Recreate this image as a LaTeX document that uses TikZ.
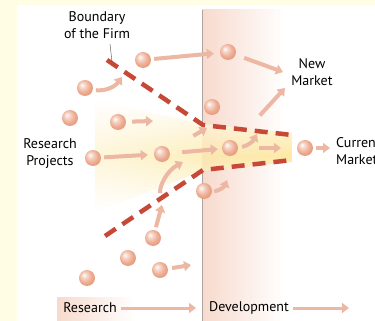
\documentclass[tikz,border=0pt]{standalone}
\usepackage{fontspec}
\setmainfont{PT Sans}
\usetikzlibrary{arrows.meta,fadings}
\definecolor{paleyellow}{RGB}{255,253,228}
\definecolor{salmon}{RGB}{236,184,163}
\definecolor{ballc}{RGB}{232,152,120}
\definecolor{boundred}{RGB}{200,72,56}
\definecolor{devpink}{RGB}{247,218,205}
\definecolor{fanyellow}{RGB}{253,233,165}
\tikzfading[name=fadeleft,left color=transparent!60,right color=transparent!0]
\pgfdeclareradialshading{projball}{\pgfqpoint{-10bp}{10bp}}{%
  color(0bp)=(white); color(7bp)=(ballc!35!white); color(20bp)=(ballc!80!white);
  color(30bp)=(ballc); color(50bp)=(ballc!75!black)}
\begin{document}
\begin{tikzpicture}[x=1pt,y=-1pt]\fontsize{14}{17}\selectfont
      \tikzstyle{project}=[circle,minimum size=16pt,inner sep=0pt,shading=projball]
      \tikzstyle{flow}=[line width=4pt,salmon,-{Triangle[length=7pt,width=10pt]}]
      \tikzstyle{boundary}=[line width=4.5pt,boundred,dash pattern=on 13pt off 8pt]
      \tikzstyle{txt}=[align=center,inner sep=0pt]
      \clip (0,0) rectangle (375,321);
      % background
      \fill[paleyellow] (0,0) rectangle (375,321);
      \fill[white] (17,5) rectangle (375,321);
      \shade[left color=devpink,right color=white] (202,10) rectangle (285,321);
      \shade[left color=devpink,right color=white] (57,297) rectangle (135,321);
      \shade[top color=white,bottom color=white,middle color=fanyellow,path fading=fadeleft]
        (95,100) -- (203,124) -- (292,133) -- (292,162) -- (203,171) -- (95,212) -- cycle;
      \draw[gray!60!devpink,line width=1pt] (202,10) -- (202,126) (202,171) -- (202,321);
      % boundary of the firm
      \draw[boundary] (107,60) -- (203,125) -- (292,135);
      \draw[boundary] (105,236) -- (203,170) -- (292,160);
      \node[txt] (bnd) at (97,25) {Boundary\\of the Firm};
      \draw[black!70] (110,44) -- (112,62);
      % labels
      \node[txt] (rp) at (50,154) {Research\\Projects};
      \node[txt] (newm) at (312,72) {New\\Market};
      \node[txt,anchor=west,align=left] (curm) at (336,151) {Current\\Market};
      \node[txt] (res) at (90,308) {Research};
      \node[txt] (dev) at (249,308) {Development};
      % projects
      \node[project] (s1) at (143,60) {};
      \node[project] (s2) at (85,88) {};
      \node[project] (s3) at (70,118) {};
      \node[project] (s4) at (118,122) {};
      \node[project] (s5) at (93,158) {};
      \node[project] (s6) at (162,154) {};
      \node[project] (s7) at (230,148) {};
      \node[project] (s8) at (212,107) {};
      \node[project] (s9) at (228,52) {};
      \node[project] (s10) at (305,148) {};
      \node[project] (s11) at (204,191) {};
      \node[project] (s12) at (153,238) {};
      \node[project] (s13) at (128,258) {};
      \node[project] (s14) at (160,270) {};
      \node[project] (s15) at (87,278) {};
      \coordinate (a2) at (122,77);
      \coordinate (a4) at (153,121);
      \coordinate (a6) at (207,128);
      \coordinate (b7) at (257,134);
      \coordinate (c7) at (281,148);
      \coordinate (nm) at (283,72);
      \coordinate (nm2) at (285,88);
      \coordinate (cm) at (330,148);
      \coordinate (a11) at (227,180);
      \coordinate (g1) at (162,205);
      \coordinate (g2) at (183,162);
      \coordinate (a14) at (191,265);
      \coordinate (resa) at (196,308);
      \coordinate (deva) at (349,308);
      % flows
      \draw[flow,shorten <=3pt,shorten >=6pt] (s1) -- (s9);
      \draw[flow,shorten <=9pt] (s9) -- (nm);
      \draw[flow,shorten <=3pt] (s2) to[bend right=30] (a2);
      \draw[flow,shorten <=6pt] (s4) -- (a4);
      \draw[flow,shorten <=3pt,shorten >=6pt] (s5) -- (s6);
      \draw[flow,shorten <=12pt,shorten >=4pt] (s6) -- (s7);
      \draw[flow,shorten <=28pt] (s6) -- (a6);
      \draw[flow,shorten <=4pt] (s7) to[bend right=25] (b7);
      \draw[flow,shorten <=21pt] (s7) -- (c7);
      \draw[flow,shorten <=36pt] (s7) -- (nm2);
      \draw[flow,shorten <=3pt] (s10) -- (cm);
      \draw[flow,shorten <=2pt] (s11) to[bend right=30] (a11);
      \draw[flow,shorten <=3pt] (s12) -- (g1);
      \draw[flow,shorten <=12pt] (g1) to[bend left=35] (g2);
      \draw[flow,shorten <=4pt] (s14) -- (a14);
      \draw[flow,line width=3pt,shorten <=4pt] (res) -- (resa);
      \draw[flow,line width=3pt,shorten <=4pt] (dev) -- (deva);
      \end{tikzpicture}
\end{document}
